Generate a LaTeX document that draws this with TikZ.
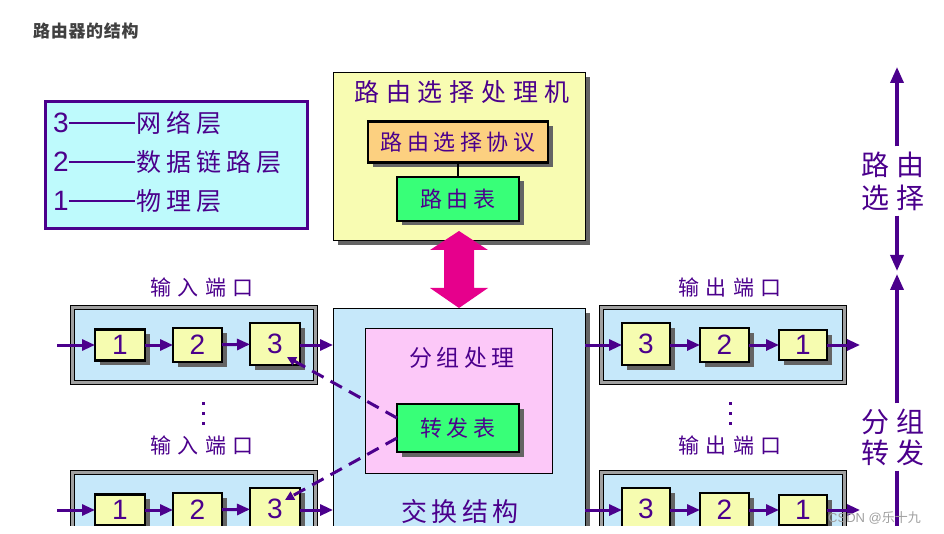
\documentclass[tikz,border=0pt]{standalone}
\usepackage{fontspec}
\setmainfont{Liberation Sans}
\newfontfamily\cjk{Noto Sans CJK SC}
\usetikzlibrary{arrows.meta,shadows,calc}
\definecolor{pur}{RGB}{75,0,140}
\definecolor{lblue}{RGB}{198,232,250}
\definecolor{procyellow}{RGB}{248,252,178}
\definecolor{boxyellow}{RGB}{246,252,176}
\definecolor{legfill}{RGB}{190,250,252}
\definecolor{orangebox}{RGB}{252,208,128}
\definecolor{greenbox}{RGB}{56,255,120}
\definecolor{pinkbox}{RGB}{252,200,248}
\definecolor{mag}{RGB}{230,0,140}
\definecolor{shgray}{RGB}{100,100,100}
\definecolor{framegray}{RGB}{160,160,160}
\definecolor{titlegray}{RGB}{64,64,64}
\newcommand{\numf}{\fontsize{28}{28}\selectfont}
\newcommand{\legcj}{\fontsize{25}{25}\selectfont\cjk\addfontfeature{LetterSpace=20}}
\tikzset{
  cj/.style n args={3}{inner sep=0pt, text=pur, align=center,
    font={\fontsize{#1}{#3}\selectfont\cjk\addfontfeature{LetterSpace=#2}}},
  shad/.style={drop shadow={shadow xshift=#1, shadow yshift=-#1, fill=shgray, opacity=1}},
  numbox/.style={draw=black, line width=2.4pt, fill=boxyellow, inner sep=0pt, outer sep=0pt,
    text=pur, font=\numf, shad=4.5pt},
  tblbox/.style={draw=black, line width=2.4pt, inner sep=0pt, outer sep=0pt, shad=4.5pt},
  bigbox/.style={draw=black, line width=0.8pt, inner sep=0pt, outer sep=0pt, anchor=north west, shad=5pt},
  portout/.style={draw=black, line width=0.8pt, fill=framegray, minimum width=247pt,
    minimum height=79pt, anchor=north west, inner sep=0pt, outer sep=0pt},
  portin/.style={draw=black, line width=0.8pt, fill=lblue, minimum width=239pt,
    minimum height=71pt, inner sep=0pt, outer sep=0pt},
  parrow/.style={draw=pur, line width=3pt, -{Triangle[length=13pt,width=11pt]}},
  varrow/.style={draw=pur, line width=3.5pt, -{Triangle[length=16pt,width=13pt]}},
  vline/.style={draw=pur, line width=3.5pt},
  dasharrow/.style={draw=pur, line width=3pt, dash pattern=on 13pt off 8pt,
    -{Triangle[length=9pt,width=9pt]}},
  dotm/.style={fill=pur}
}
\begin{document}
\begin{tikzpicture}[x=1pt,y=-1pt]
\useasboundingbox (0,0) rectangle (944,534);
\begin{scope}
\clip (0,0) rectangle (944,525);

% title
\node[anchor=west, inner sep=0pt, text=titlegray,
  font={\fontsize{17}{17}\selectfont\cjk\bfseries\addfontfeature{LetterSpace=4}}] (title) at (33,31) {路由器的结构};

% legend
\node[draw=pur, line width=3pt, fill=legfill, minimum width=262pt, minimum height=127pt,
  anchor=north west, inner sep=0pt] (legend) at (44,100) {};
\node[anchor=base west, inner sep=0pt, text=pur] (l3) at (53,133) {\numf 3\rule[8.5pt]{66pt}{2.6pt}\hspace{2pt}\legcj 网络层};
\node[anchor=base west, inner sep=0pt, text=pur] (l2) at (53,172) {\numf 2\rule[8.5pt]{66pt}{2.6pt}\hspace{2pt}\legcj 数据链路层};
\node[anchor=base west, inner sep=0pt, text=pur] (l1) at (53,211) {\numf 1\rule[8.5pt]{66pt}{2.6pt}\hspace{2pt}\legcj 物理层};

% routing processor
\node[bigbox, fill=procyellow, minimum width=252pt, minimum height=168pt] (proc) at (333,72) {};
\node[cj={25}{27}{25}] (proctitle) at (462,92) {路由选择处理机};
\node[tblbox, fill=orangebox, minimum width=180pt, minimum height=41pt, cj={22}{21}{22}] (proto) at (458,142) {路由选择协议};
\node[tblbox, fill=greenbox, minimum width=122pt, minimum height=44pt, cj={22}{20}{22}] (rtab) at (458,199) {路由表};
\draw[line width=2.5pt] (proto) -- (rtab);

% double arrow between processor and fabric
\fill[mag] (459,231) -- (488,250) -- (474,250) -- (474,288) -- (488,288) -- (459,308)
  -- (430,288) -- (444,288) -- (444,250) -- (430,250) -- cycle;

% switching fabric
\node[bigbox, fill=lblue, minimum width=252pt, minimum height=260pt] (fab) at (333,308) {};
\node[draw=black, line width=0.8pt, fill=pinkbox, minimum width=187pt, minimum height=145pt,
  anchor=north west, inner sep=0pt] (pkt) at (365,328) {};
\node[cj={23}{18}{23}] (pkttitle) at (462,358) {分组处理};
\node[tblbox, fill=greenbox, minimum width=122pt, minimum height=48pt, cj={22}{21}{22}] (ftab) at (458,428) {转发表};
\node[cj={26}{17}{26}] (fabtitle) at (460,512) {交换结构};

% input ports
\node[cj={21}{30}{21}] (inlab1) at (202,288) {输入端口};
\node[portout] (ipo1) at (70,305) {};
\node[portin] (ipi1) at (ipo1.center) {};
\node[numbox, minimum width=50pt, minimum height=31pt] (i11) at (120,345) {1};
\node[numbox, minimum width=49pt, minimum height=34pt] (i12) at (197.5,345) {2};
\node[numbox, minimum width=50pt, minimum height=42pt] (i13) at (275,344) {3};
\coordinate (iin1) at (57,345);
\draw[parrow] (iin1) -- (i11);
\draw[parrow] (i11) -- (i12);
\draw[parrow] (i12) -- (i13);
\draw[parrow] (i13.east |- iin1) -- (iin1 -| fab.west);

\fill[dotm] (201.5,401.5) rectangle (205,405);
\fill[dotm] (201.5,411.5) rectangle (205,415);
\fill[dotm] (201.5,421.5) rectangle (205,425);

\node[cj={21}{30}{21}] (inlab2) at (202,446) {输入端口};
\node[portout] (ipo2) at (70,470) {};
\node[portin] (ipi2) at (ipo2.center) {};
\node[numbox, minimum width=50pt, minimum height=31pt] (i21) at (120,510) {1};
\node[numbox, minimum width=49pt, minimum height=34pt] (i22) at (197.5,510) {2};
\node[numbox, minimum width=50pt, minimum height=42pt] (i23) at (275,509) {3};
\coordinate (iin2) at (57,510);
\draw[parrow] (iin2) -- (i21);
\draw[parrow] (i21) -- (i22);
\draw[parrow] (i22) -- (i23);
\draw[parrow] (i23.east |- iin2) -- (iin2 -| fab.west);

% output ports
\node[cj={21}{30}{21}] (outlab1) at (730,288) {输出端口};
\node[portout] (opo1) at (599,305) {};
\node[portin] (opi1) at (opo1.center) {};
\node[numbox, minimum width=48pt, minimum height=42pt] (o13) at (646,344) {3};
\node[numbox, minimum width=49pt, minimum height=34pt] (o12) at (724.5,345) {2};
\node[numbox, minimum width=48pt, minimum height=30pt] (o11) at (803,345) {1};
\coordinate (oout1) at (860,345);
\draw[parrow] (oout1 -| fab.east) -- (o13.west |- oout1);
\draw[parrow] (o13.east |- oout1) -- (o12);
\draw[parrow] (o12) -- (o11);
\draw[parrow] (o11) -- (oout1);

\fill[dotm] (728.5,401.5) rectangle (732,405);
\fill[dotm] (728.5,411.5) rectangle (732,415);
\fill[dotm] (728.5,421.5) rectangle (732,425);

\node[cj={21}{30}{21}] (outlab2) at (730,446) {输出端口};
\node[portout] (opo2) at (599,470) {};
\node[portin] (opi2) at (opo2.center) {};
\node[numbox, minimum width=48pt, minimum height=42pt] (o23) at (646,509) {3};
\node[numbox, minimum width=49pt, minimum height=34pt] (o22) at (724.5,510) {2};
\node[numbox, minimum width=48pt, minimum height=30pt] (o21) at (803,510) {1};
\coordinate (oout2) at (860,510);
\draw[parrow] (oout2 -| fab.east) -- (o23.west |- oout2);
\draw[parrow] (o23.east |- oout2) -- (o22);
\draw[parrow] (o22) -- (o21);
\draw[parrow] (o21) -- (oout2);

% dashed arrows from forwarding table
\coordinate (t1) at (287,357);
\coordinate (t2) at (285,500);
\draw[dasharrow] ($(ftab.west)+(0,-10)$) -- (t1);
\draw[dasharrow] ($(ftab.west)+(0,10)$) -- (t2);

% right side
\node[cj={28}{25}{33}, inner sep=5pt] (rsel) at (893,181) {路由\\选择};
\node[cj={28}{25}{31}, inner sep=5pt] (fwd) at (893,437) {分组\\转发};
\coordinate (rtop) at (897,67);
\coordinate (rmida) at (897,271);
\coordinate (rmidb) at (897,274);
\coordinate (rbot) at (897,540);
\draw[varrow] (rsel.north -| rtop) -- (rtop);
\draw[varrow] (rsel.south -| rtop) -- (rmida);
\draw[varrow] (fwd.north -| rtop) -- (rmidb);
\draw[vline] (fwd.south -| rtop) -- (rbot);

% watermark
\node[anchor=west, inner sep=0pt, text=gray!75, font={\fontsize{13}{13}\selectfont}] (wm) at (828,518) {CSDN @{\cjk 乐十九}};
\end{scope}
\end{tikzpicture}
\end{document}
